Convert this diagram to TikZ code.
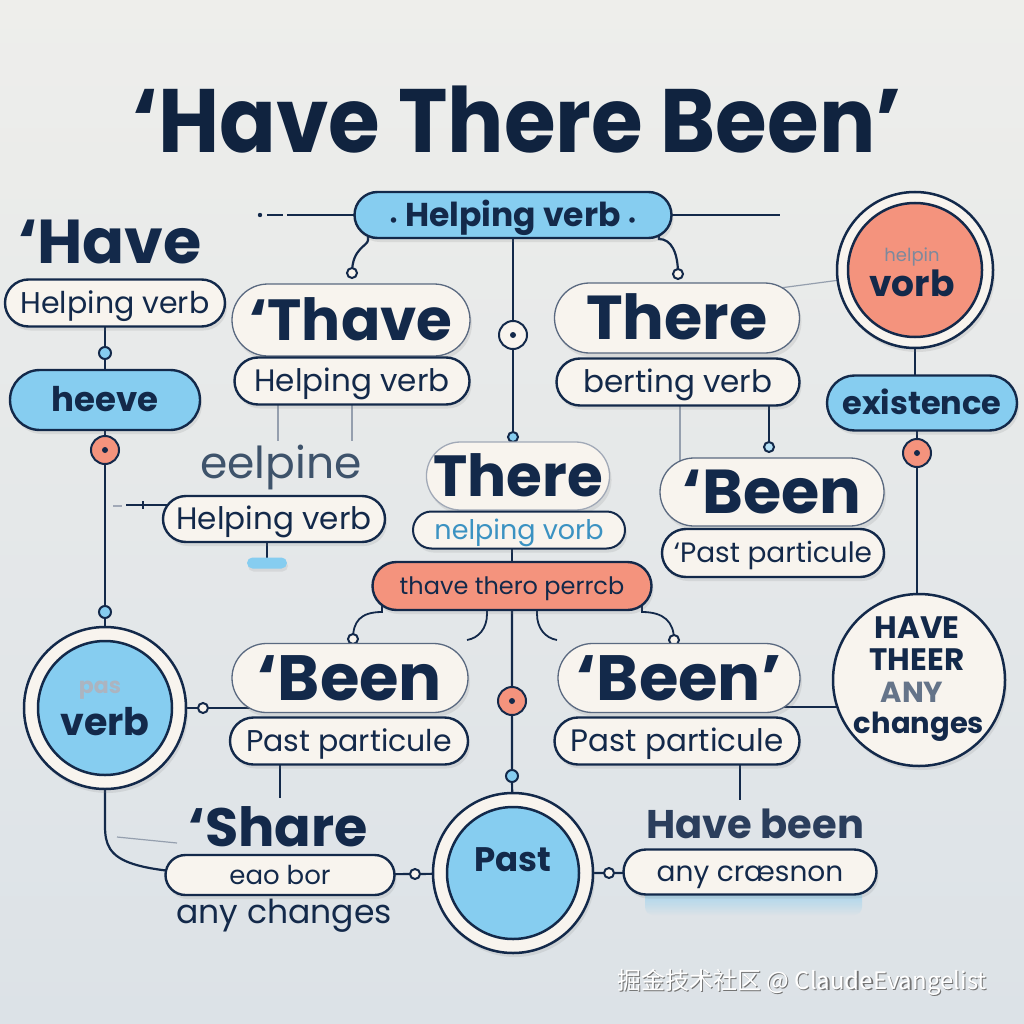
\documentclass[tikz,border=0pt]{standalone}
\usepackage{fontspec}
\setmainfont{Poppins}
\newfontfamily\cjk{Noto Sans CJK SC}
\usetikzlibrary{shadows,calc,shapes.misc}
\pgfdeclarelayer{back}
\pgfdeclarelayer{bg}
\pgfsetlayers{back,bg,main}
\definecolor{navy}{HTML}{13294A}
\definecolor{skyb}{HTML}{86CDF0}
\definecolor{salm}{HTML}{F4937D}
\definecolor{cream}{HTML}{F8F4EE}
\definecolor{bgtop}{HTML}{EEEEEB}
\definecolor{bgbot}{HTML}{DCE2E7}
\definecolor{greytx}{HTML}{3E536B}
\definecolor{bluetx}{HTML}{3B92C2}
\tikzset{
  pill/.style={rounded rectangle, draw=navy, line width=2.4pt, fill=cream, inner sep=0pt,
    text=navy,
    drop shadow={shadow xshift=2pt, shadow yshift=-4pt, opacity=0.16}},
  bigpill/.style={pill, line width=1.3pt, draw=navy!70},
  bluepill/.style={pill, fill=skyb},
  salmpill/.style={pill, fill=salm},
  sz/.style 2 args={minimum width=#1pt, minimum height=#2pt},
  bdot/.style={circle, draw=navy, line width=2pt, fill=skyb, minimum size=12pt, inner sep=0pt},
  sdot/.style={circle, draw=navy, line width=2pt, fill=salm, minimum size=28pt, inner sep=0pt,
    path picture={\fill[navy] (path picture bounding box.center) circle (3pt);}},
  cdot/.style={sdot, fill=cream},
  jdot/.style={circle, draw=navy, line width=2pt, fill=cream, minimum size=10pt, inner sep=0pt},
  conn/.style={draw=navy, line width=2.2pt},
  faint/.style={draw=navy!45, line width=1.2pt},
  ring/.style={circle, draw=navy, line width=2.5pt, fill=cream, inner sep=0pt,
    drop shadow={shadow xshift=2pt, shadow yshift=-4pt, opacity=0.16}},
  inring/.style={circle, draw=navy, line width=2.5pt, inner sep=0pt},
  big/.style={text=navy, font=\bfseries\fontsize{#1}{#1}\selectfont, text height=0.7*#1pt, text depth=0pt},
  reg/.style={font=\fontsize{#1}{#1}\selectfont, text height=0.7*#1pt, text depth=0pt},
}
\begin{document}
\begin{tikzpicture}[x=1pt,y=1pt]
\useasboundingbox (0,0) rectangle (1024,-1024);
\begin{pgfonlayer}{back}
\shade[top color=bgtop, bottom color=bgbot] (0,0) rectangle (1024,-1024);
\end{pgfonlayer}

% title
\node[big=90, text=navy!85!black, anchor=base] (title) at (517,-153) {\scalebox{0.93}[1]{‘Have There Been’}};

% top pill
\node[bluepill, sz={317}{46}, big=33] (tp) at (513,-215) {{\fontsize{18}{18}\selectfont•}\ Helping verb\ {\fontsize{18}{18}\selectfont•}};

% left column
\node[big=62, anchor=base] (have) at (110,-263) {‘Have};
\node[pill, sz={220}{47}, reg=30] (lhv) at (115,-303) {Helping verb};
\node[bdot] (d1) at (105,-353) {};
\node[bluepill, sz={190}{60}, big=34] (heeve) at (105,-400) {heeve};
\node[sdot] (d2) at (105,-450) {};
\node[bdot] (d3) at (105,-612) {};
\node[ring, minimum size=162pt] (lcirc) at (105,-708) {};
\node[inring, fill=skyb, minimum size=134pt] (lcin) at (105,-708) {};
\node[text=navy!35, font=\bfseries\fontsize{22}{22}\selectfont] (pas) at (100,-690) {pas};
\node[big=38] (verbl) at (105,-722) {verb};
\node[jdot] (j1) at (203,-708) {};

% center-left
\node[text=greytx, reg=44, anchor=base] (eel) at (281,-478) {eelpine};
\node[pill, sz={222}{46}, reg=31] (clhv) at (274,-519) {Helping verb};
\node[rounded rectangle, fill=skyb, minimum width=40pt, minimum height=11pt, inner sep=0pt,
  drop shadow={shadow xshift=1pt, shadow yshift=-3pt, opacity=0.15}] (sbp) at (267,-563) {};

% Thave group
\node[bigpill, sz={238}{72}, big=58] (thave) at (351,-320) {‘Thave};
\node[pill, sz={235}{47}, reg=31] (thavehv) at (352,-381) {Helping verb};
\node[jdot] (j2) at (352,-273) {};
\node[jdot] (j3) at (678,-274) {};
\node[cdot] (d4) at (513,-335) {};
\node[bdot, minimum size=10pt] (d5) at (513,-437) {};

% There group
\node[bigpill, sz={245}{70}, big=62] (there) at (677,-318) {There};
\node[pill, sz={243}{47}, reg=31] (berting) at (678,-382) {berting verb};
\node[jdot, fill=skyb!60] (j4) at (769,-447) {};

% right column
\node[ring, minimum size=156pt] (rc) at (915,-270) {};
\node[inring, fill=salm, minimum size=134pt] (rcin) at (915,-270) {};
\node[text=navy!55, reg=18] (helpin) at (912,-255) {helpin};
\node[big=36] (vorb) at (912,-284) {vorb};
\node[bluepill, sz={190}{55}, big=32] (exist) at (922,-403) {existence};
\node[sdot] (d6) at (917,-453) {};
\node[ring, minimum size=172pt] (hc) at (919,-680) {};
\node[big=31] (hc1) at (917,-628) {HAVE};
\node[big=31] (hc2) at (917,-660) {THEER};
\node[big=29, text=navy!65] (hc3) at (912,-692) {ANY};
\node[big=29] (hc4) at (919,-723) {changes};

% right middle Been
\node[bigpill, sz={224}{68}, big=62] (beenm) at (772,-492) {‘Been};
\node[pill, sz={222}{48}, reg=28] (ppm) at (773,-553) {‘Past particule};

% center group
\node[bigpill, draw=navy!40, sz={180}{68}, big=58] (cthere) at (518,-476) {There};
\node[pill, line width=2pt, sz={212}{37}, reg=27, text=bluetx] (nelp) at (519,-530) {nelping vorb};
\node[salmpill, sz={279}{48}, reg=24] (spill) at (512,-586) {thave thero perrcb};
\node[jdot] (j5) at (353,-639) {};
\node[jdot] (j6) at (674,-640) {};

% Been pills
\node[bigpill, sz={236}{69}, big=64] (beenl) at (350,-678) {‘Been};
\node[pill, sz={238}{47}, reg=30] (ppl) at (349,-741) {Past particule};
\node[bigpill, sz={242}{69}, big=64] (beenr) at (679,-678) {‘Been’};
\node[pill, sz={245}{47}, reg=31] (ppr) at (677,-741) {Past particule};

\node[sdot] (d7) at (512,-701) {};
\node[bdot] (d8) at (512,-776) {};
\node[ring, minimum size=160pt] (pc) at (513,-873) {};
\node[inring, fill=skyb, minimum size=132pt] (pcin) at (513,-873) {};
\node[big=34] (pastt) at (513,-860) {Past};

% bottom left
\node[big=54, anchor=base] (sharet) at (278,-846) {‘Share};
\node[pill, sz={229}{40}, reg=26] (share) at (280,-875) {eao bor};
\node[reg=33, text=navy, anchor=base] (anyc) at (284,-923) {any changes};
\node[jdot] (j7) at (415,-874) {};
\node[jdot] (j8) at (609,-873) {};

% bottom right
\node[big=40, text=navy!90, anchor=base] (hb) at (755,-838) {Have been};
\node[pill, sz={253}{45}, reg=28] (anyp) at (750,-872) {any cræsnon};

% watermark
\node[font=\cjk\fontsize{24}{24}\selectfont, text=black!55] (wms) at (803.2,-983.2) {掘金技术社区 @ ClaudeEvangelist};
\node[font=\cjk\fontsize{24}{24}\selectfont, text=white] (wm) at (802,-982) {掘金技术社区 @ ClaudeEvangelist};

% coordinates for free ends
\coordinate (tl0) at (260,-215);
\coordinate (tl1) at (267,-215);
\coordinate (tl2) at (283,-215);
\coordinate (tl3) at (287,-215);
\coordinate (tr1) at (780,-215);
\coordinate (ct0) at (113,-505);
\coordinate (ct1) at (122,-505);
\coordinate (ct2) at (126,-505);
\coordinate (ct3) at (143,-505);
\coordinate (fl1) at (117,-837);
\coordinate (fl2) at (177,-843);
\coordinate (sharetop) at (280,-798);
\coordinate (hbtop) at (740,-800);

\begin{pgfonlayer}{bg}
% glow under bottom right pill
\shade[top color=skyb, bottom color=bgbot, rounded corners=8pt, opacity=0.8] (645,-885) rectangle (862,-915);
% top pill lines
\fill[navy] (tl0) circle (2.2pt);
\draw[conn] (tl1) -- (tl2);
\draw[conn] (tl3) -- (tp.center);
\draw[conn, line width=1.8pt] (tp.center) -- (tr1);
\draw[conn] ($(tp.center)+(-145,0)$) -- ++(0,-25) .. controls +(0,-6) and (352,-248) .. (j2.center);
\draw[conn] ($(tp.center)+(146,0)$) -- ++(0,-24) .. controls +(12,0) and (678,-252) .. (j3.center);
\draw[conn] (tp.center) -- (d4.center) -- (d5.center) -- (d5 |- cthere.center);
% left column
\draw[conn] (d1 |- lhv.center) -- (d1.center) -- (heeve.center);
\draw[conn] (heeve.center) -- (d2.center) -- (d3.center) -- (lcirc.center);
\draw[conn] (lcirc.center) -- (j1.center) -- (j1 -| beenl.center);
\draw[conn] (lcirc.center) -- (105,-826) .. controls (105,-862) and (122,-875) .. (share.center);
\draw[faint] (fl1) -- (fl2);
% center-left
\fill[navy!40] (ct0) rectangle ($(ct1)+(0,-1.5)$);
\draw[conn, line width=1.8pt] (ct2) -- (ct2 -| clhv.center);
\draw[conn, line width=1.5pt] ($(ct3)+(0,4)$) -- ($(ct3)+(0,-4)$);
\draw[conn, line width=1.6pt] (sbp |- clhv.center) -- (sbp.center);
\draw[faint] ($(thavehv.center)+(-74,0)$) -- ++(0,-60);
\draw[faint] ($(thavehv.center)+(0,0)$) -- ++(0,-60);
% there group
\draw[conn] (j4 |- berting.center) -- (j4.center);
\draw[faint] ($(berting.center)+(2,0)$) -- ++(0,-100);
\draw[faint] (rc.center) -- ($(there.center)+(103,30)$);
% right column
\draw[conn] (rc.center) -- (rc.center |- exist.center);
\draw[conn] (d6 |- exist.center) -- (d6.center) -- (d6 |- hc.center);
\draw[conn] ($(beenr.center)+(0,-29)$) -- ($(hc.center)+(0,-27)$);
% center
\draw[conn] (spill.center |- nelp.center) -- (spill.center);
\draw[conn] (spill.center) -- (d7.center) -- (d8.center) -- (pc.center);
\draw[conn, line width=1.8pt] ($(spill.center)+(-130,0)$) -- ++(0,-26) .. controls +(-22,0) and (353,-622) .. (j5.center);
\draw[conn, line width=1.8pt] ($(spill.center)+(-25,0)$) -- ++(0,-28) .. controls +(0,-14) and +(12,2) .. ++(-20,-26);
\draw[conn, line width=1.8pt] ($(spill.center)+(25,0)$) -- ++(0,-28) .. controls +(0,-14) and +(-12,2) .. ++(20,-26);
\draw[conn, line width=1.8pt] ($(spill.center)+(130,0)$) -- ++(0,-26) .. controls +(22,0) and (674,-622) .. (j6.center);
% bottom
\draw[conn] ($(ppl.center)+(-69,0)$) -- (sharetop);
\draw[conn] ($(ppr.center)+(63,0)$) -- (hbtop);
\draw[conn] (share.center) -- (j7.center) -- (pc.center);
\draw[conn] (pc.center) -- (j8.center) -- (anyp.center);
\end{pgfonlayer}
\end{tikzpicture}
\end{document}
